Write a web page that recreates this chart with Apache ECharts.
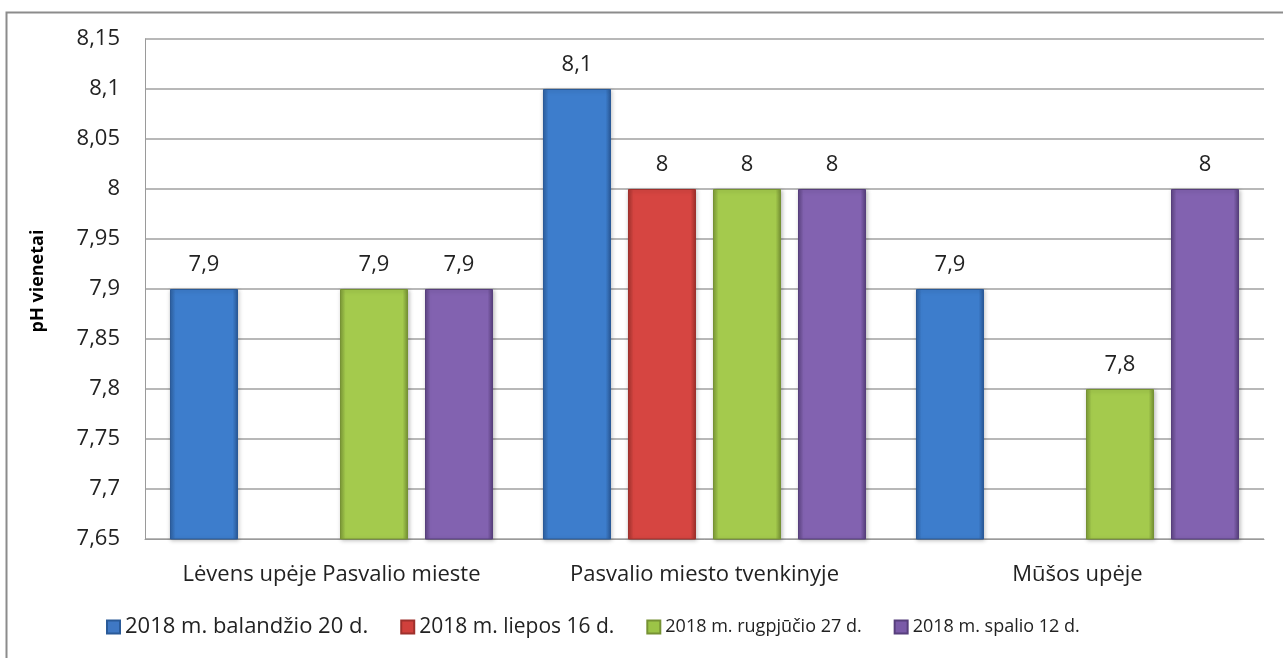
<!DOCTYPE html>
<html><head><meta charset="utf-8">
<script src="https://cdn.jsdelivr.net/npm/echarts@6/dist/echarts.min.js"></script>
<style>html,body{margin:0;padding:0;background:#fff}#c{width:1283px;height:658px}</style>
</head><body><div id="c"></div>
<script>
const categories = ['Lėvens upėje Pasvalio mieste', 'Pasvalio miesto tvenkinyje', 'Mūšos upėje'];
const seriesNames = ['2018 m. balandžio 20 d.', '2018 m. liepos 16 d.', '2018 m. rugpjūčio 27 d.', '2018 m. spalio 12 d.'];
const balandzio = [7.9, 8.1, 7.9];
const liepos = [null, 8, null];
const rugpjucio = [7.9, 8, 7.8];
const spalio = [7.9, 8, 8];
const yMin = 7.65, yMax = 8.15, yStep = 0.05;

const seriesData = [balandzio, liepos, rugpjucio, spalio];
const baseColors = [
  ['#2f62a3', '#4a8ad8', '#3d7dcc', '#2a5a98'],
  ['#a83430', '#e04a45', '#d64541', '#9e302c'],
  ['#7e9c38', '#aed356', '#a4ca4d', '#769234'],
  ['#5f4685', '#8e6cbc', '#8262b0', '#573f7c']
];
const legendColors = ['#3f78c4', '#d0403c', '#9cc447', '#7a5aa8'];
const fmt = v => String(+(+v).toFixed(2)).replace('.', ',');
const font = '"Open Sans", sans-serif';
const legendFontSizes = [22, 21, 18, 18];

const chart = echarts.init(document.getElementById('c'), null, {renderer: 'canvas'});
chart.setOption({
  animation: false,
  backgroundColor: '#fff',
  graphic: [{
    type: 'rect', left: 4, top: 10, shape: {width: 1300, height: 700},
    style: {fill: 'none', stroke: '#8c8c8c', lineWidth: 2}, z: -1, silent: true
  }],
  grid: {left: 145, right: 19, top: 39, bottom: 119},
  legend: {
    bottom: 15, left: 101, itemWidth: 13, itemHeight: 13, itemGap: 32,
    icon: 'rect',
    textStyle: {fontFamily: font, fontSize: 22, color: '#222'},
    data: seriesNames.map((n, i) => ({
      name: n, itemStyle: {color: legendColors[i]},
      textStyle: {color: '#222', fontFamily: font, fontSize: legendFontSizes[i]}
    }))
  },
  xAxis: {
    type: 'category', data: categories,
    axisLine: {lineStyle: {color: '#9a9a9a', width: 1}},
    axisTick: {show: false},
    axisLabel: {fontFamily: font, fontSize: 22, color: '#222', margin: 25, interval: 0, hideOverlap: false}
  },
  yAxis: {
    type: 'value', min: yMin, max: yMax, interval: yStep,
    name: 'pH vienetai', nameLocation: 'middle', nameGap: 98,
    nameTextStyle: {fontFamily: font, fontSize: 18, fontWeight: 'bold', color: '#000', padding: [0, 0, 0, 16]},
    axisLine: {show: true, lineStyle: {color: '#9a9a9a'}},
    axisTick: {show: false},
    splitLine: {lineStyle: {color: '#a0a0a0', width: 1.5}},
    axisLabel: {fontFamily: font, fontSize: 22, color: '#222', margin: 25, formatter: fmt}
  },
  series: seriesNames.map((n, i) => ({
    name: n, type: 'bar', data: seriesData[i],
    barGap: '25%', barCategoryGap: '13.4%',
    itemStyle: {
      color: new echarts.graphic.LinearGradient(0, 0, 1, 0, [
        {offset: 0, color: baseColors[i][0]},
        {offset: 0.08, color: baseColors[i][2]},
        {offset: 0.5, color: baseColors[i][2]},
        {offset: 0.92, color: baseColors[i][2]},
        {offset: 1, color: baseColors[i][3]}
      ]),
      borderColor: baseColors[i][3], borderWidth: 1,
      shadowColor: 'rgba(0,0,0,0.25)', shadowBlur: 4, shadowOffsetX: 1, shadowOffsetY: 1
    },
    label: {
      show: true, position: 'top', distance: 13, formatter: p => fmt(p.value),
      fontFamily: font, fontSize: 22, color: '#222'
    }
  }))
});
</script></body></html>
